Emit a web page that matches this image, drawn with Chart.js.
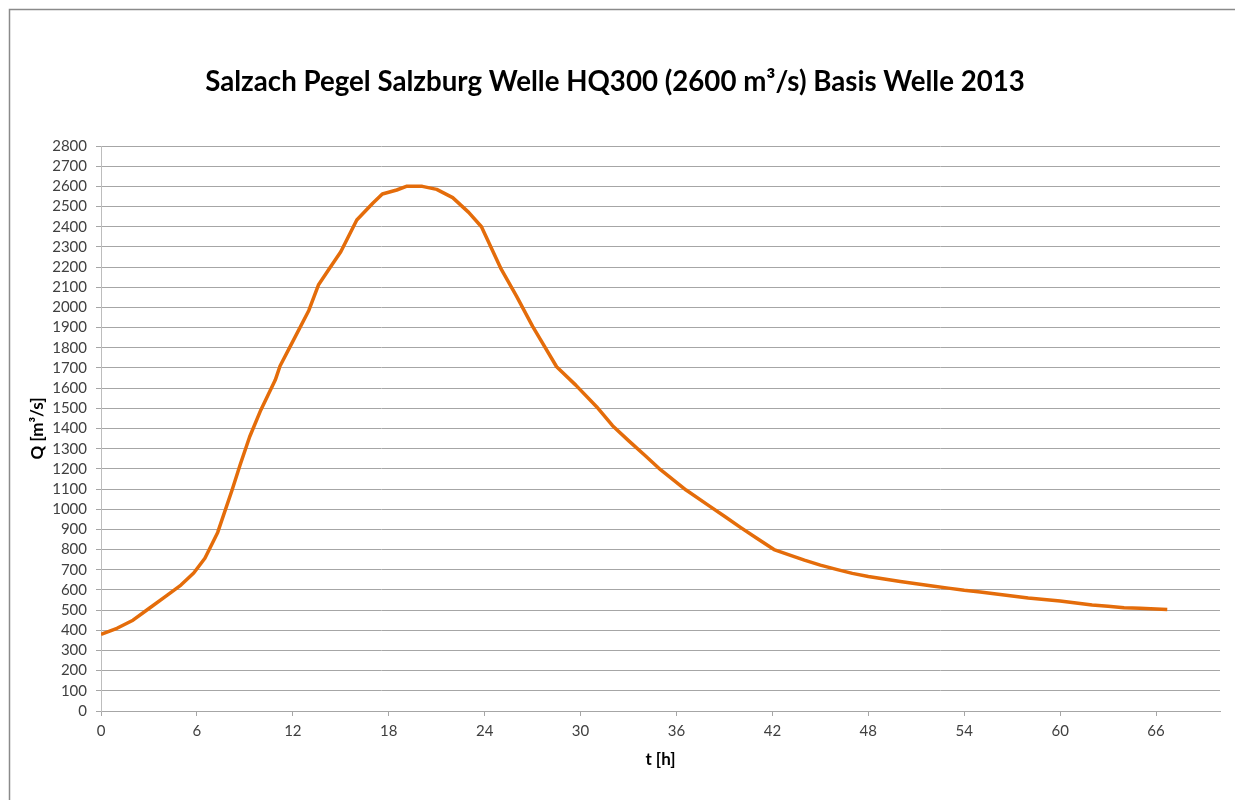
<!DOCTYPE html>
<html>
<head>
<meta charset="utf-8">
<script src="https://cdn.jsdelivr.net/npm/chart.js@4.4.1/dist/chart.umd.min.js"></script>
<style>
  html, body { margin: 0; padding: 0; background: #ffffff; }
  #wrap { width: 1235px; height: 800px; position: relative; }
  canvas { display: block; }
</style>
</head>
<body>
<div id="wrap"><canvas id="c" width="1235" height="800"></canvas></div>
<script>
// ---- data ----
const chartTitle = "Salzach Pegel Salzburg Welle HQ300 (2600 m³/s) Basis Welle 2013";
const xAxisTitle = "t [h]";
const yAxisTitle = "Q [m³/s]";

const hours = [0, 1, 2, 3, 4, 5, 5.8, 6.5, 7.3, 8.2, 8.7, 9.3, 10, 10.9, 11.2, 12, 13, 13.6, 14.3, 15, 16, 17, 17.6, 18.5, 19.1, 20.1,
  21, 22, 23, 23.8, 25, 26, 27, 28.5, 29.7, 31, 32, 33, 34, 35, 36.6, 38, 39, 40, 41, 42.1, 43, 44, 45, 46, 47, 48,
  49, 50, 51, 52, 53, 54, 55, 56, 57, 58, 59, 60, 61, 62, 63, 64, 65, 66, 66.7];
const discharge = [380, 410, 450, 508, 566, 624, 684, 757, 885, 1095, 1219, 1359, 1492, 1640, 1710, 1832, 1985, 2111, 2194, 2276, 2433, 2516, 2562, 2582, 2600, 2600,
  2585, 2544, 2471, 2400, 2195, 2055, 1906, 1706, 1615, 1508, 1414, 1340, 1269, 1196, 1095, 1019, 965, 910, 857, 800, 775, 748, 723, 702, 682, 667,
  654, 642, 631, 620, 609, 598, 590, 580, 570, 560, 553, 545, 535, 525, 519, 512, 509, 506, 503];

const xTicks = [0, 6, 12, 18, 24, 30, 36, 42, 48, 54, 60, 66];
const xMin = 0, xMax = 70;
const yMin = 0, yMax = 2800, yStep = 100;

// ---- styling ----
const lineColor = '#E46C0A';
const gridColor = '#a6a6a6';
const labelColor = '#404040';
const fontFamily = 'Lato, "Open Sans", "Liberation Sans", sans-serif';

// fit title width to the reference (~820px)
const mctx = document.createElement('canvas').getContext('2d');
mctx.font = 'bold 100px ' + fontFamily;
const titleSize = Math.min(31, 100 * 820 / mctx.measureText(chartTitle).width);
const titleLH = titleSize * 1.2;
const titleCenter = 82;
const titleTopPad = titleCenter - titleLH / 2;
const titleBottomPad = 146 - titleCenter - titleLH / 2;

const points = hours.map((h, i) => ({ x: h, y: discharge[i] }));

const borderPlugin = {
  id: 'frame',
  beforeDraw(chart) {
    const ctx = chart.ctx;
    ctx.save();
    ctx.fillStyle = '#ffffff';
    ctx.fillRect(0, 0, chart.width, chart.height);
    ctx.strokeStyle = '#8a8a8a';
    ctx.lineWidth = 1.5;
    ctx.beginPath();
    ctx.moveTo(9.5, chart.height + 2);
    ctx.lineTo(9.5, 9.5);
    ctx.lineTo(chart.width + 2, 9.5);
    ctx.stroke();
    ctx.restore();
  }
};

new Chart(document.getElementById('c'), {
  type: 'line',
  data: {
    datasets: [{
      data: points,
      borderColor: lineColor,
      borderWidth: 3.5,
      pointRadius: 0,
      pointHoverRadius: 0,
      tension: 0,
      fill: false,
      borderJoinStyle: 'round',
      yAxisID: 'y'
    }]
  },
  options: {
    responsive: false,
    animation: false,
    devicePixelRatio: 1,
    layout: { padding: { left: 0, right: 5, top: 0, bottom: 0 } },
    plugins: {
      legend: { display: false },
      tooltip: { enabled: false },
      title: {
        display: true,
        text: chartTitle,
        color: '#000000',
        font: { family: fontFamily, size: titleSize, weight: 'bold', lineHeight: 1.2 },
        padding: { top: titleTopPad, bottom: titleBottomPad }
      }
    },
    scales: {
      x: {
        type: 'linear',
        min: xMin,
        max: xMax,
        afterBuildTicks(scale) { scale.ticks = xTicks.map(v => ({ value: v })); },
        afterFit(scale) { scale.height = 800 - 711; },
        ticks: {
          color: labelColor,
          font: { family: fontFamily, size: 15 },
          padding: 6,
          maxRotation: 0,
          autoSkip: false,
          callback: v => String(v)
        },
        grid: {
          drawOnChartArea: false,
          drawTicks: true,
          tickLength: 5,
          color: gridColor
        },
        border: { display: true, color: gridColor, width: 1 },
        title: {
          display: true,
          text: xAxisTitle,
          color: '#000000',
          font: { family: fontFamily, size: 17, weight: 'bold', lineHeight: 1.2 },
          padding: { top: 0, bottom: 30 }
        }
      },
      y: {
        type: 'linear',
        position: 'left',
        min: yMin,
        max: yMax,
        afterFit(scale) { scale.width = 101; },
        ticks: {
          stepSize: yStep,
          color: labelColor,
          font: { family: fontFamily, size: 15 },
          padding: 9,
          autoSkip: false,
          callback: v => String(v)
        },
        grid: {
          drawOnChartArea: true,
          drawTicks: true,
          tickLength: 5,
          color: gridColor,
          lineWidth: 1
        },
        border: { display: true, color: '#bdbdbd', width: 1 },
        title: {
          display: true,
          text: yAxisTitle,
          color: '#000000',
          font: { family: fontFamily, size: 17, weight: 'bold', lineHeight: 1.2 },
          padding: { top: 27, bottom: 0 }
        }
      },
      yRight: {
        type: 'linear',
        position: 'right',
        min: yMin,
        max: yMax,
        afterFit(scale) { scale.width = 10; },
        ticks: { display: false },
        grid: { display: false, drawOnChartArea: false, drawTicks: false },
        border: { display: false }
      }
    }
  },
  plugins: [borderPlugin]
});
</script>
</body>
</html>
